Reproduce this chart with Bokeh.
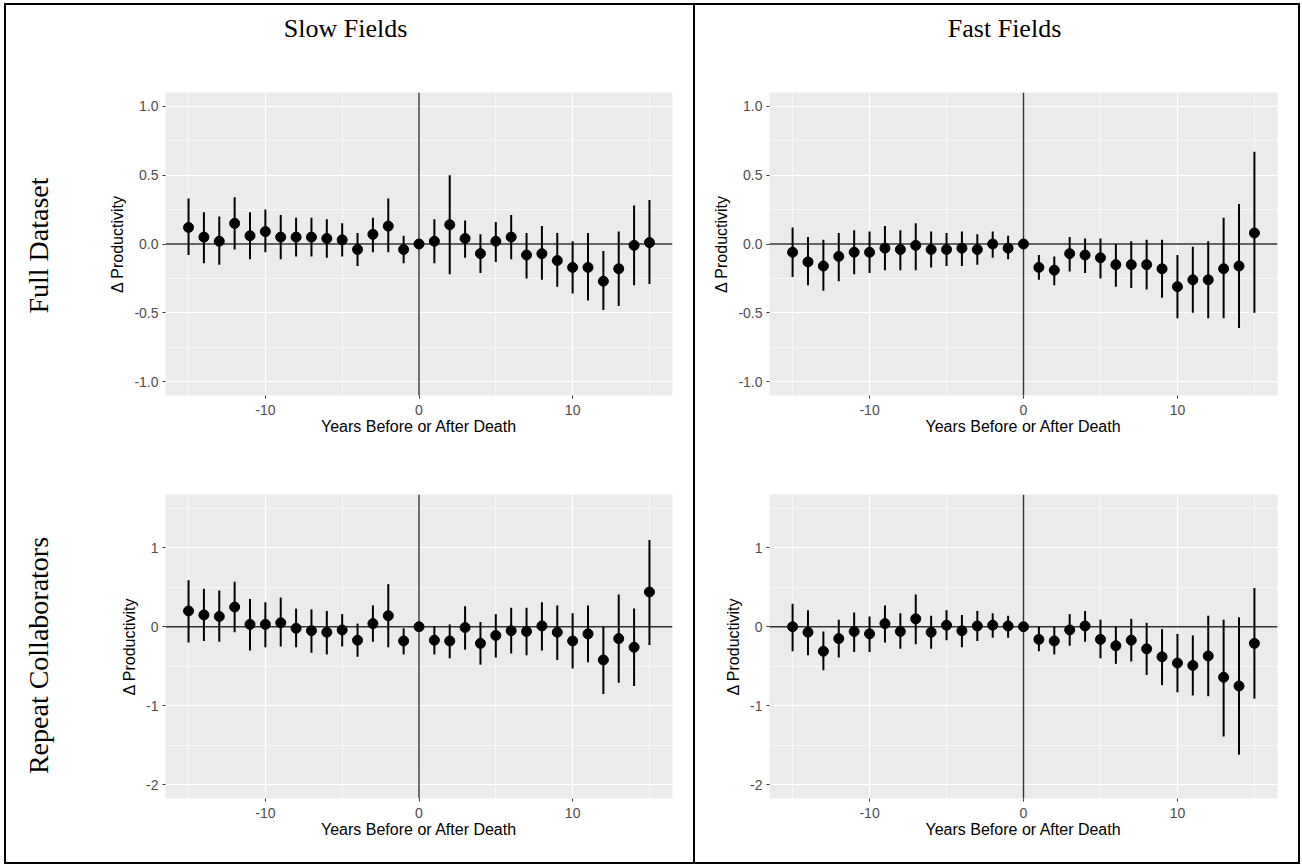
import math
from bokeh.plotting import figure
from bokeh.models import Range1d, FixedTicker, Span, Spacer, PrintfTickFormatter
from bokeh.layouts import row, column
from bokeh.core.properties import value
from bokeh.embed import file_html
from bokeh.resources import INLINE

# Event-time axis: years relative to the death
years = list(range(-15, 16))

# Column and row headings
col_titles = ["Slow Fields", "Fast Fields"]
row_titles = ["Full Dataset", "Repeat Collaborators"]
x_title = "Years Before or After Death"
y_title = "\u0394 Productivity"

# Tick values
x_ticks = [-10, 0, 10]
x_minor = [-15, -5, 5, 15]
y_ticks_full = [-1.0, -0.5, 0.0, 0.5, 1.0]
y_minor_full = [-0.75, -0.25, 0.25, 0.75]
y_ticks_rep = [-2, -1, 0, 1]
y_minor_rep = [-1.5, -0.5, 0.5, 1.5]

# Slow fields, full dataset
slow_full_est = [0.12, 0.05, 0.02, 0.15, 0.06, 0.09, 0.05, 0.05, 0.05, 0.04, 0.03, -0.04, 0.07, 0.13, -0.04,
                 0.00, 0.02, 0.14, 0.04, -0.07, 0.02, 0.05, -0.08, -0.07, -0.12, -0.17, -0.17, -0.27, -0.18, -0.01, 0.01]
slow_full_lo = [-0.08, -0.14, -0.15, -0.04, -0.11, -0.06, -0.11, -0.09, -0.09, -0.10, -0.09, -0.16, -0.06, -0.06, -0.14,
                0.00, -0.14, -0.22, -0.10, -0.21, -0.13, -0.11, -0.25, -0.26, -0.31, -0.36, -0.41, -0.48, -0.45, -0.30, -0.29]
slow_full_hi = [0.33, 0.23, 0.20, 0.34, 0.23, 0.25, 0.21, 0.19, 0.19, 0.18, 0.15, 0.08, 0.19, 0.33, 0.06,
                0.00, 0.18, 0.50, 0.17, 0.07, 0.16, 0.21, 0.08, 0.13, 0.08, 0.02, 0.08, -0.05, 0.09, 0.28, 0.32]

# Fast fields, full dataset
fast_full_est = [-0.06, -0.13, -0.16, -0.09, -0.06, -0.06, -0.03, -0.04, -0.01, -0.04, -0.04, -0.03, -0.04, 0.00, -0.03,
                 0.00, -0.17, -0.19, -0.07, -0.08, -0.10, -0.15, -0.15, -0.15, -0.18, -0.31, -0.26, -0.26, -0.18, -0.16, 0.08]
fast_full_lo = [-0.24, -0.30, -0.34, -0.27, -0.22, -0.21, -0.19, -0.19, -0.19, -0.17, -0.16, -0.16, -0.15, -0.10, -0.11,
                0.00, -0.26, -0.30, -0.20, -0.21, -0.25, -0.31, -0.32, -0.33, -0.39, -0.54, -0.50, -0.54, -0.54, -0.61, -0.50]
fast_full_hi = [0.12, 0.05, 0.03, 0.08, 0.10, 0.09, 0.13, 0.10, 0.15, 0.09, 0.08, 0.09, 0.07, 0.09, 0.06,
                0.00, -0.08, -0.09, 0.05, 0.04, 0.04, 0.00, 0.02, 0.03, 0.03, -0.08, -0.02, 0.02, 0.19, 0.29, 0.67]

# Slow fields, repeat collaborators
slow_rep_est = [0.20, 0.15, 0.13, 0.25, 0.03, 0.03, 0.05, -0.02, -0.05, -0.07, -0.04, -0.17, 0.04, 0.14, -0.18,
                0.00, -0.17, -0.18, -0.01, -0.21, -0.11, -0.05, -0.06, 0.01, -0.07, -0.18, -0.09, -0.42, -0.15, -0.26, 0.44]
slow_rep_lo = [-0.20, -0.18, -0.19, -0.07, -0.30, -0.26, -0.25, -0.26, -0.33, -0.35, -0.25, -0.38, -0.19, -0.26, -0.35,
               0.00, -0.35, -0.40, -0.29, -0.48, -0.39, -0.34, -0.36, -0.30, -0.42, -0.53, -0.45, -0.85, -0.71, -0.75, -0.23]
slow_rep_hi = [0.59, 0.48, 0.46, 0.57, 0.35, 0.31, 0.37, 0.23, 0.22, 0.20, 0.16, 0.04, 0.27, 0.54, -0.02,
               0.00, 0.01, 0.03, 0.26, 0.06, 0.16, 0.24, 0.24, 0.31, 0.27, 0.17, 0.27, 0.00, 0.41, 0.23, 1.10]

# Fast fields, repeat collaborators
fast_rep_est = [0.00, -0.07, -0.31, -0.15, -0.06, -0.09, 0.04, -0.06, 0.10, -0.07, 0.02, -0.05, 0.01, 0.02, 0.01,
                0.00, -0.16, -0.18, -0.04, 0.01, -0.16, -0.24, -0.17, -0.28, -0.38, -0.46, -0.49, -0.37, -0.64, -0.75, -0.21]
fast_rep_lo = [-0.31, -0.36, -0.55, -0.39, -0.32, -0.32, -0.20, -0.28, -0.22, -0.28, -0.17, -0.26, -0.18, -0.14, -0.14,
               0.00, -0.31, -0.35, -0.24, -0.19, -0.40, -0.47, -0.44, -0.61, -0.74, -0.83, -0.87, -0.88, -1.39, -1.62, -0.91]
fast_rep_hi = [0.29, 0.21, -0.06, 0.09, 0.18, 0.13, 0.27, 0.17, 0.41, 0.14, 0.21, 0.15, 0.20, 0.17, 0.14,
               0.00, 0.00, 0.00, 0.16, 0.20, 0.09, 0.00, 0.10, 0.05, -0.03, -0.09, -0.11, 0.14, 0.09, 0.12, 0.49]

SANS = "Liberation Sans"
SERIF = "Liberation Serif"
BG = "#EBEBEB"


def panel(est, lo, hi, y_range, y_ticks, y_minor, y_fmt, width, height, left, top, bottom):
    p = figure(width=width, height=height, output_backend="svg", toolbar_location=None,
               x_range=Range1d(-16.5, 16.5), y_range=Range1d(*y_range),
               min_border_left=left, min_border_right=21, min_border_top=top, min_border_bottom=bottom,
               background_fill_color=BG, border_fill_color="white", outline_line_color=None)

    xt = FixedTicker(ticks=x_ticks, minor_ticks=x_minor)
    yt = FixedTicker(ticks=y_ticks, minor_ticks=y_minor)
    p.xaxis.ticker = xt
    p.yaxis.ticker = yt
    p.xgrid.ticker = xt
    p.ygrid.ticker = yt
    p.xaxis.formatter = PrintfTickFormatter(format="%d")
    p.yaxis.formatter = PrintfTickFormatter(format=y_fmt)

    for g in (p.xgrid, p.ygrid):
        g.grid_line_color = "white"
        g.grid_line_width = 1.2
        g.minor_grid_line_color = "white"
        g.minor_grid_line_width = 0.6

    for ax in (p.xaxis, p.yaxis):
        ax.axis_line_color = None
        ax.major_tick_line_color = "#333333"
        ax.major_tick_out = 3
        ax.major_tick_in = 0
        ax.minor_tick_line_color = None
        ax.major_label_text_font = SANS
        ax.major_label_text_font_size = "14px"
        ax.major_label_text_color = "#4D4D4D"
        ax.axis_label_text_font = SANS
        ax.axis_label_text_font_size = "16px"
        ax.axis_label_text_font_style = "normal"
        ax.axis_label_text_color = "black"

    p.xaxis.axis_label = x_title
    p.yaxis.axis_label = y_title
    p.xaxis.major_label_standoff = 5
    p.xaxis.axis_label_standoff = 0
    p.yaxis.major_label_standoff = 3
    p.yaxis.axis_label_standoff = 5

    p.add_layout(Span(location=0, dimension="width", line_color="#333333",
                      line_width=1.4, level="underlay"))
    p.add_layout(Span(location=0, dimension="height", line_color="#333333",
                      line_width=1.4, level="underlay"))

    p.segment(x0=years, y0=lo, x1=years, y1=hi, line_color="black", line_width=2)
    p.scatter(x=years, y=est, size=10, fill_color="black", line_color="black")
    return p


def label_fig(width, height, text, x, y, size, angle=0.0):
    f = figure(width=width, height=height, output_backend="svg", toolbar_location=None,
               x_range=Range1d(0, width), y_range=Range1d(0, height),
               x_axis_location=None, y_axis_location=None, min_border=0,
               outline_line_color=None, border_fill_color="white", background_fill_color="white")
    f.grid.visible = False
    f.text(x=[x], y=[y], text=[text], angle=angle, text_align="center", text_baseline="middle",
           text_font=value(SERIF), text_font_size=size, text_color="black")
    return f


HEAD_H, TOP_H, BOT_H = 55, 390, 412
LEFT_W, RIGHT_W, LAB_W = 687, 603, 70
CELL_H = HEAD_H + TOP_H + BOT_H

top_rng = (-1.1, 1.1)
bot_rng = (-2.175, 1.675)

tl = panel(slow_full_est, slow_full_lo, slow_full_hi, top_rng, y_ticks_full, y_minor_full, "%.1f",
           LEFT_W - LAB_W, TOP_H, 89, 32, 55)
bl = panel(slow_rep_est, slow_rep_lo, slow_rep_hi, bot_rng, y_ticks_rep, y_minor_rep, "%d",
           LEFT_W - LAB_W, BOT_H, 76, 44, 64)
tr = panel(fast_full_est, fast_full_lo, fast_full_hi, top_rng, y_ticks_full, y_minor_full, "%.1f",
           RIGHT_W, TOP_H, 74, 32, 55)
br = panel(fast_rep_est, fast_rep_lo, fast_rep_hi, bot_rng, y_ticks_rep, y_minor_rep, "%d",
           RIGHT_W, BOT_H, 61, 44, 64)

head_l = label_fig(LEFT_W, HEAD_H, col_titles[0], 339, HEAD_H - 23, "26px")
head_r = label_fig(RIGHT_W, HEAD_H, col_titles[1], 279, HEAD_H - 23, "26px")
lab_t = label_fig(LAB_W, TOP_H, row_titles[0], 32, TOP_H - 185, "28px", math.pi / 2)
lab_b = label_fig(LAB_W, BOT_H, row_titles[1], 32, BOT_H - 205, "28px", math.pi / 2)


def vline():
    return Spacer(width=2, height=CELL_H, styles={"background-color": "black"})


def hline():
    return Spacer(width=LEFT_W + RIGHT_W + 6, height=2, styles={"background-color": "black"})


left_cell = column(head_l, row(column(lab_t, lab_b), column(tl, bl)))
right_cell = column(head_r, tr, br)

page = column(
    Spacer(width=10, height=3),
    row(Spacer(width=4, height=2), hline()),
    row(Spacer(width=4, height=CELL_H), vline(), left_cell, vline(), right_cell, vline()),
    row(Spacer(width=4, height=2), hline()),
)

open("out.html", "w").write(file_html(page, INLINE))
